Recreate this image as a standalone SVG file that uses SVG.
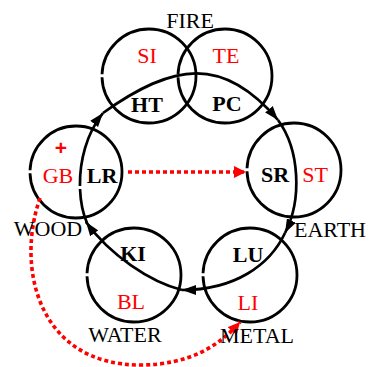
<svg xmlns="http://www.w3.org/2000/svg" width="369" height="367" viewBox="0 0 369 367">
<defs>
<marker id="ah" markerUnits="userSpaceOnUse" markerWidth="15" markerHeight="11" refX="14" refY="5.5" orient="auto"><path d="M0,0.5 L14,5.5 L0,10.5 z" fill="#000"/></marker>
<marker id="ahr" markerUnits="userSpaceOnUse" markerWidth="13" markerHeight="12" refX="12" refY="6" orient="auto"><path d="M0,0 L12,6 L0,12 z" fill="#f00"/></marker>
<style>
.c{fill:none;stroke:#000;stroke-width:2.8;stroke-dasharray:146.15 3 300}
.c46{stroke-dasharray:143 3 300}
.arc{fill:none;stroke:#000;stroke-width:2.7;marker-end:url(#ah)}
.dot{fill:none;stroke:#f00;stroke-width:3.6;stroke-dasharray:4 3;marker-end:url(#ahr)}
text{font-family:"Liberation Serif","Times New Roman",serif;font-size:22px;text-anchor:middle}
.o{fill:#f00}
.b{font-weight:bold;fill:#000}
.e{fill:#000}
.plus{font-family:"Liberation Sans",Arial,sans-serif;font-weight:bold;font-size:21px;fill:#f00}
</style>
</defs>
<g id="node-si-ht">
<circle class="c" cx="149" cy="76" r="47"/>
<text class="o" x="147" y="63">SI</text>
<text class="b" x="147" y="112">HT</text>
</g>
<g id="node-te-pc">
<circle class="c" cx="225" cy="76" r="47"/>
<text class="o" x="226" y="63">TE</text>
<text class="b" x="227" y="111">PC</text>
</g>
<g id="node-gb-lr">
<circle class="c c46" cx="76" cy="172" r="46"/>
<text class="plus" x="61" y="155">+</text>
<text class="o" x="58" y="183">GB</text>
<text class="b" x="102" y="183">LR</text>
</g>
<g id="node-sr-st">
<circle class="c" cx="294" cy="170" r="47"/>
<text class="b" x="275" y="182">SR</text>
<text class="o" x="315" y="182">ST</text>
</g>
<g id="node-ki-bl">
<circle class="c" cx="134" cy="275" r="47"/>
<text class="b" x="133" y="261">KI</text>
<text class="o" x="131" y="309">BL</text>
</g>
<g id="node-lu-li">
<circle class="c" cx="250" cy="275" r="47"/>
<text class="b" x="248" y="262">LU</text>
<text class="o" x="248" y="310">LI</text>
</g>
<g id="connectors">
<path class="arc" style="stroke-dasharray:35 3 400" d="M87,223 C75,195 77,145 103,113"/>
<path class="arc" d="M103,113 C173,63 223,55 278,120"/>
<path class="arc" d="M278,120 C300,150 302,200 285,233"/>
<path class="arc" d="M285,233 C270,265 235,290 182,290"/>
<path class="arc" d="M182,290 C150,282 110,255 86,222"/>
<path class="dot" d="M128,172 L246,172"/>
<path class="dot" d="M40,198 C15,270 40,365 140,365 C190,365 220,345 240,322"/>
</g>
<g id="element-labels">
<text class="e" x="190" y="28">FIRE</text>
<text class="e" x="48" y="236">WOOD</text>
<text class="e" x="330" y="237">EARTH</text>
<text class="e" x="125" y="342">WATER</text>
<text class="e" x="257" y="343">METAL</text>
</g>
</svg>
